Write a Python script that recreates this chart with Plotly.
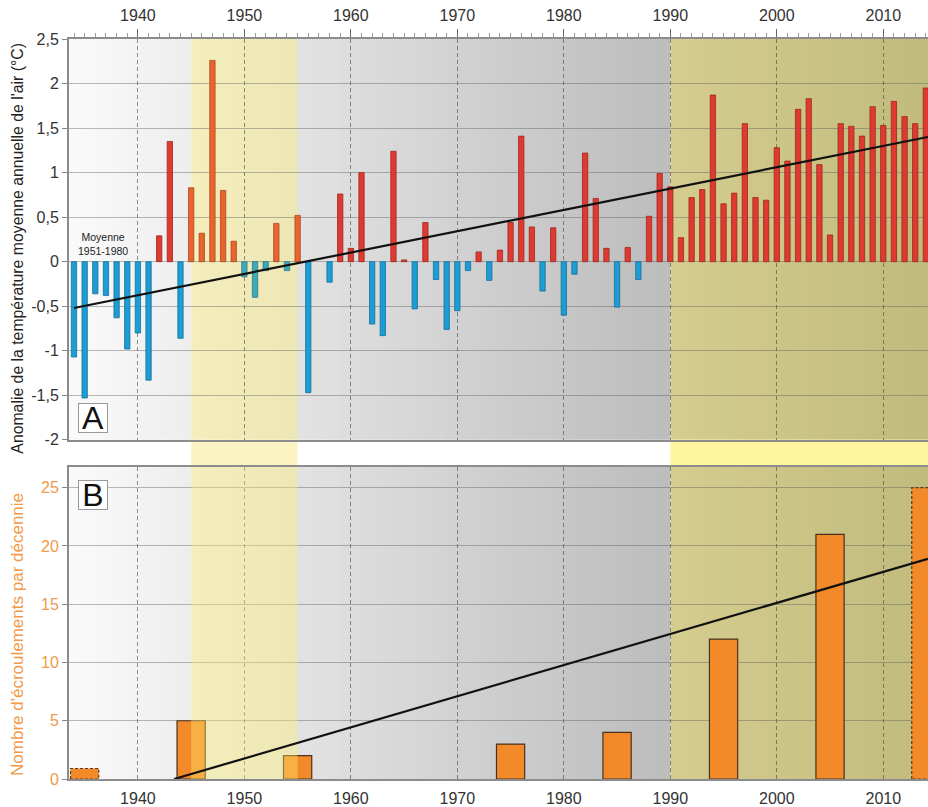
import plotly.graph_objects as go

# ---------------- data ----------------
years = list(range(1934, 2015))
anomaly = [
    -1.07, -1.53, -0.36, -0.38, -0.63, -0.98, -0.80, -1.33, 0.29, 1.35,   # 1934-1943
    -0.86, 0.83, 0.32, 2.26, 0.80, 0.23, -0.17, -0.40, -0.10, 0.43,       # 1944-1953
    -0.10, 0.52, -1.47, 0.00, -0.23, 0.76, 0.15, 1.00, -0.70, -0.83,      # 1954-1963
    1.24, 0.02, -0.53, 0.44, -0.20, -0.76, -0.55, -0.10, 0.11, -0.21,     # 1964-1973
    0.13, 0.44, 1.41, 0.39, -0.33, 0.38, -0.60, -0.14, 1.22, 0.71,        # 1974-1983
    0.15, -0.51, 0.16, -0.20, 0.51, 0.99, 0.84, 0.27, 0.72, 0.81,         # 1984-1993
    1.87, 0.65, 0.77, 1.55, 0.72, 0.69, 1.28, 1.13, 1.71, 1.83,           # 1994-2003
    1.09, 0.30, 1.55, 1.52, 1.41, 1.74, 1.53, 1.80, 1.63, 1.55,           # 2004-2013
    1.95,                                                                 # 2014
]
decade_pos = [1935, 1945, 1955, 1965, 1975, 1985, 1995, 2005, 2014]
rockfalls = [0.9, 5, 2, 0, 3, 4, 12, 21, 25]
partial_decade = [True, False, False, False, False, False, False, False, True]

trend_temp_x = [1934, 2014.2]
trend_temp_y = [-0.52, 1.40]
trend_rock_x = [1943.4, 2014.2]
trend_rock_y = [0, 18.9]

temp_ticks = [-2, -1.5, -1, -0.5, 0, 0.5, 1, 1.5, 2, 2.5]
temp_tick_text = ["-2", "-1,5", "-1", "-0,5", "0", "0,5", "1", "1,5", "2", "2,5"]
rock_ticks = [0, 5, 10, 15, 20, 25]
decade_ticks = [1940, 1950, 1960, 1970, 1980, 1990, 2000, 2010]

warm_band = [1945, 1955]
recent_band = [1990, 2016]

# ---------------- styling ----------------
X_RANGE = [1933.53, 2014.2]
FONT = "Liberation Sans, Arial, sans-serif"
ORANGE_TXT = "#f09a4a"


def bar_color(y, v):
    in_band = warm_band[0] <= y <= warm_band[1]
    if v >= 0:
        return ("#e8662d", "#a8451e") if in_band else ("#e03a30", "#9a2820")
    return ("#3daabb", "#2a7a88") if in_band else ("#1c9dd4", "#17709a")


fills = [bar_color(y, v)[0] for y, v in zip(years, anomaly)]
edges = [bar_color(y, v)[1] for y, v in zip(years, anomaly)]
edge_w = [0.8 if v != 0 else 0 for v in anomaly]

fig = go.Figure()

# Panel A bars
fig.add_trace(go.Bar(x=years, y=anomaly, width=0.5, xaxis="x", yaxis="y",
                     marker=dict(color=fills, line=dict(color=edges, width=edge_w)),
                     hoverinfo="x+y"))
fig.add_trace(go.Scatter(x=trend_temp_x, y=trend_temp_y, mode="lines", xaxis="x", yaxis="y",
                         line=dict(color="#111", width=2.2), hoverinfo="skip"))

# Panel B bars
bw = 2.65
fig.add_trace(go.Bar(x=decade_pos, y=rockfalls, width=bw, xaxis="x2", yaxis="y2",
                     marker=dict(color="#f28a2a",
                                 line=dict(color="#4a3020",
                                           width=[0 if (p or v == 0) else 1.2
                                                  for p, v in zip(partial_decade, rockfalls)])),
                     hoverinfo="x+y"))
for c, v, p in zip(decade_pos, rockfalls, partial_decade):
    if p:
        fig.add_trace(go.Scatter(x=[c - bw / 2, c - bw / 2, c + bw / 2, c + bw / 2, c - bw / 2],
                                 y=[0, v, v, 0, 0], mode="lines", xaxis="x2", yaxis="y2",
                                 line=dict(color="#5a3a1a", width=1.2, dash="3px,2px"),
                                 hoverinfo="skip"))
# translucent warm band over panel B (tints bars like in the original)
fig.add_trace(go.Scatter(x=[warm_band[0], warm_band[1], warm_band[1], warm_band[0], warm_band[0]],
                         y=[0, 0, 30, 30, 0], fill="toself", mode="lines", xaxis="x2", yaxis="y2",
                         fillcolor="rgba(255,238,110,0.38)", line=dict(width=0),
                         hoverinfo="skip"))
fig.add_trace(go.Scatter(x=trend_rock_x, y=trend_rock_y, mode="lines", xaxis="x2", yaxis="y2",
                         line=dict(color="#111", width=2.2), hoverinfo="skip"))

# ---------------- backgrounds ----------------
shapes = []


def grey_at(t):
    f = (t - 1933.5) / (1990 - 1933.5)
    g = round(250 - 62 * f)
    return f"rgb({g},{g},{g})"


def khaki_at(t):
    f = (t - 1990) / (2015 - 1990)
    r = round(213 - 21 * f)
    g = round(205 - 19 * f)
    b = round(144 - 20 * f)
    return f"rgb({r},{g},{b})"


for yref in ["y domain", "y2 domain"]:
    xref = "x" if yref.startswith("y ") else "x2"
    t = 1933.0
    while t < 1990:
        shapes.append(dict(type="rect", xref=xref, yref=yref, x0=t, x1=min(t + 1.08, 1990),
                           y0=0, y1=1, fillcolor=grey_at(t + 0.5), line=dict(width=0),
                           layer="below"))
        t += 1
    t = 1990.0
    while t < 2016:
        shapes.append(dict(type="rect", xref=xref, yref=yref, x0=t, x1=t + 1.08,
                           y0=0, y1=1, fillcolor=khaki_at(t + 0.5), line=dict(width=0),
                           layer="below"))
        t += 1

# warm band in panel A (below bars)
shapes.append(dict(type="rect", xref="x", yref="y domain", x0=warm_band[0], x1=warm_band[1],
                   y0=0, y1=1, fillcolor="rgba(255,238,110,0.38)", line=dict(width=0),
                   layer="below"))

DOM_B = [0, 0.422]
DOM_A = [0.4583, 1]
# strips in the gap between panels
shapes.append(dict(type="rect", xref="x", yref="paper", x0=warm_band[0], x1=warm_band[1],
                   y0=DOM_B[1], y1=DOM_A[0], fillcolor="#fbf4c2", line=dict(width=0),
                   layer="below"))
shapes.append(dict(type="rect", xref="x", yref="paper", x0=recent_band[0], x1=recent_band[1],
                   y0=DOM_B[1], y1=DOM_A[0], fillcolor="#fff59e", line=dict(width=0),
                   layer="below"))

GRID_H = "rgba(90,90,90,0.42)"
GRID_V = "rgba(70,70,70,0.6)"
LINE_C = "#8c8c8c"
TICK_SIZE = 16

fig.update_layout(
    width=928, height=807,
    margin=dict(l=69, r=0, t=39, b=24),
    paper_bgcolor="white", plot_bgcolor="rgba(0,0,0,0)",
    showlegend=False,
    font=dict(family=FONT, size=14, color="#333"),
    shapes=shapes,
    xaxis=dict(domain=[0, 1], anchor="y", side="top", range=X_RANGE,
               tickmode="array", tickvals=decade_ticks,
               ticks="outside", ticklen=8, tickcolor="#666", tickwidth=1,
               ticklabelstandoff=2,
               minor=dict(tickmode="linear", tick0=1930, dtick=1, ticks="outside",
                          ticklen=4, tickcolor="#999", showgrid=False),
               showgrid=True, gridcolor=GRID_V, griddash="4px,3px", gridwidth=1,
               showline=True, linecolor=LINE_C, linewidth=2, mirror=True,
               zeroline=False, tickfont=dict(size=TICK_SIZE, color="#333")),
    yaxis=dict(domain=DOM_A, anchor="x", range=[-2, 2.5],
               tickmode="array", tickvals=temp_ticks, ticktext=temp_tick_text,
               ticks="outside", ticklen=5, tickcolor="#888",
               showgrid=True, gridcolor=GRID_H, gridwidth=1, zeroline=False,
               showline=True, linecolor=LINE_C, linewidth=2,
               tickfont=dict(size=TICK_SIZE, color="#333")),
    xaxis2=dict(domain=[0, 1], anchor="y2", side="bottom", range=X_RANGE,
                tickmode="array", tickvals=decade_ticks, ticks="",
                ticklabelstandoff=4,
                showgrid=True, gridcolor=GRID_V, griddash="4px,3px", gridwidth=1,
                showline=True, linecolor=LINE_C, linewidth=2, mirror=True,
                zeroline=False, tickfont=dict(size=TICK_SIZE, color="#333")),
    yaxis2=dict(domain=DOM_B, anchor="x2", range=[0, 26.8],
                tickmode="array", tickvals=rock_ticks,
                ticks="outside", ticklen=5, tickcolor="#888",
                showgrid=True, gridcolor=GRID_H, gridwidth=1, zeroline=False,
                showline=True, linecolor=LINE_C, linewidth=2,
                tickfont=dict(size=TICK_SIZE, color=ORANGE_TXT)),
    annotations=[
        dict(text="Anomalie de la température moyenne annuelle de l'air (°C)",
             xref="paper", yref="paper", x=-0.0594, y=0.718, textangle=-90,
             xanchor="center", yanchor="middle", showarrow=False,
             font=dict(size=15.8, color="#222", family=FONT)),
        dict(text="Nombre d'écroulements par décennie",
             xref="paper", yref="paper", x=-0.0594, y=0.196, textangle=-90,
             xanchor="center", yanchor="middle", showarrow=False,
             font=dict(size=17, color=ORANGE_TXT, family=FONT)),
        dict(text="Moyenne<br>1951-1980", xref="x", yref="y", x=1936.7, y=0.03,
             xanchor="center", yanchor="bottom", showarrow=False,
             font=dict(size=10.5, color="#222", family=FONT)),
        dict(text="A", xref="x domain", yref="y domain", x=0.0285, y=0.0546,
             xanchor="center", yanchor="middle", showarrow=False,
             width=26, height=26, borderpad=1, borderwidth=1, bordercolor="#999",
             bgcolor="white", font=dict(size=32, color="#111", family=FONT)),
        dict(text="B", xref="x2 domain", yref="y2 domain", x=0.0285, y=0.909,
             xanchor="center", yanchor="middle", showarrow=False,
             width=26, height=26, borderpad=1, borderwidth=1, bordercolor="#999",
             bgcolor="white", font=dict(size=32, color="#111", family=FONT)),
    ],
)

fig.write_html("out.html",
               config={"displayModeBar": False},
               post_script="document.body.style.margin='0';"
                           "document.body.style.overflow='hidden';"
                           "window.dispatchEvent(new Event('resize'));")
